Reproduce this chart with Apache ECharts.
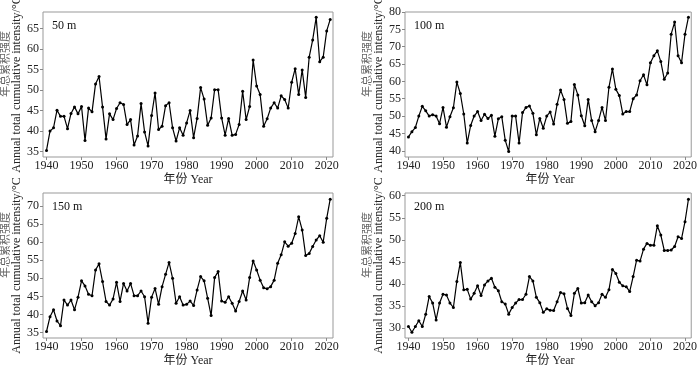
<!DOCTYPE html>
<html>
<head>
<meta charset="utf-8">
<script src="https://cdn.jsdelivr.net/npm/echarts@6/dist/echarts.min.js"></script>
<style>
html, body { margin: 0; padding: 0; background: #fff; }
#chart { width: 700px; height: 366px; }
</style>
</head>
<body>
<div id="chart"></div>
<script>
// years 1940 - 2021
const years = []
for (let y = 1940; y <= 2021; y++) years.push(y)

const yearTicks = [1940, 1950, 1960, 1970, 1980, 1990, 2000, 2010, 2020]

// annual total cumulative intensity, by depth
const depth50 = [
  35.3, 40.0, 40.8, 45.1, 43.6, 43.6, 40.6, 44.3, 45.9, 44.2,
  46.0, 37.7, 45.6, 44.7, 51.5, 53.3, 45.9, 38.1, 44.2, 42.8,
  45.5, 46.9, 46.5, 41.6, 42.8, 36.6, 38.8, 46.7, 39.8, 36.4,
  43.8, 49.3, 40.4, 41.2, 46.2, 46.9, 40.8, 37.6, 40.8, 39.0,
  42.0, 45.0, 38.4, 43.1, 50.6, 47.8, 41.4, 43.2, 50.1, 50.1,
  43.2, 39.0, 43.1, 39.0, 39.2, 41.6, 49.7, 42.8, 46.0, 57.3,
  51.0, 48.9, 41.2, 43.0, 45.6, 46.9, 45.6, 48.6, 47.7, 45.6,
  51.9, 55.2, 48.9, 54.9, 48.2, 58.0, 62.2, 67.7, 56.9, 58.0,
  64.4, 67.2
]
const depth100 = [
  44.0, 45.5, 46.7, 50.0, 52.8, 51.5, 50.0, 50.4, 50.0, 47.8,
  52.5, 46.8, 49.8, 52.4, 59.8, 56.5, 50.6, 42.2, 47.3, 50.0,
  51.3, 48.7, 50.5, 49.3, 50.2, 44.2, 49.2, 49.8, 43.0, 39.8,
  50.0, 50.0, 42.2, 51.0, 52.5, 52.9, 50.8, 44.6, 49.3, 46.5,
  50.0, 51.2, 47.7, 53.4, 57.5, 54.8, 47.9, 48.4, 59.1, 56.1,
  50.1, 47.2, 54.8, 48.7, 45.5, 48.7, 52.5, 48.7, 58.3, 63.6,
  57.7, 55.9, 50.6, 51.3, 51.3, 55.0, 56.1, 60.2, 61.9, 59.0,
  65.4, 67.4, 68.8, 65.7, 60.6, 62.4, 73.6, 77.1, 67.4, 65.4,
  73.6, 78.5
]
const depth150 = [
  35.3, 39.4, 41.3, 38.2, 36.9, 44.0, 42.6, 44.0, 41.3, 44.8,
  49.3, 47.9, 45.6, 45.2, 52.3, 54.0, 49.1, 43.6, 42.6, 44.3,
  48.9, 43.6, 48.6, 46.5, 48.6, 45.2, 45.2, 46.5, 44.9, 37.6,
  44.8, 47.2, 42.8, 47.7, 51.1, 54.4, 50.0, 43.1, 44.9, 42.6,
  42.8, 43.7, 42.5, 46.8, 50.5, 49.3, 44.5, 39.7, 50.2, 51.9,
  43.7, 43.4, 44.9, 43.1, 41.0, 43.6, 46.5, 44.0, 50.2, 54.8,
  52.3, 49.5, 47.4, 47.1, 47.7, 49.5, 54.2, 56.5, 60.1, 58.9,
  59.7, 62.4, 67.0, 63.4, 56.3, 56.9, 58.8, 60.6, 61.8, 60.0,
  66.6, 71.9
]
const depth200 = [
  30.4, 29.1, 30.4, 31.7, 30.4, 33.2, 37.2, 35.7, 31.9, 35.7,
  37.7, 37.5, 35.7, 34.7, 40.6, 44.9, 38.7, 38.8, 36.6, 37.9,
  39.6, 37.4, 39.8, 40.7, 41.3, 39.3, 38.5, 36.0, 35.5, 33.2,
  34.7, 35.7, 36.5, 36.5, 37.7, 41.7, 40.7, 37.0, 35.8, 33.6,
  34.4, 34.1, 34.0, 36.0, 38.1, 37.8, 34.5, 32.9, 37.9, 39.0,
  35.7, 35.8, 37.5, 36.0, 35.1, 35.8, 37.7, 37.0, 38.7, 43.3,
  42.4, 40.4, 39.6, 39.4, 38.3, 41.7, 45.4, 45.2, 47.9, 49.2,
  48.8, 48.8, 53.2, 51.1, 47.6, 47.6, 47.7, 48.5, 50.7, 50.3,
  54.1, 59.2
]

const ticks50 = [35, 40, 45, 50, 55, 60, 65]
const ticks100 = [40, 45, 50, 55, 60, 65, 70, 75, 80]
const ticks150 = [35, 40, 45, 50, 55, 60, 65, 70]
const ticks200 = [30, 35, 40, 45, 50, 55, 60]

const serif = "'Liberation Serif', 'Noto Sans CJK SC', serif"
const W = 290
const H = 145

const panels = [
  { label: '50 m', data: depth50, ticks: ticks50, min: 33.7, max: 69, left: 43, top: 12 },
  { label: '100 m', data: depth100, ticks: ticks100, min: 38.2, max: 80, left: 405, top: 12 },
  { label: '150 m', data: depth150, ticks: ticks150, min: 33.5, max: 73.6, left: 43, top: 193 },
  { label: '200 m', data: depth200, ticks: ticks200, min: 27.8, max: 60.6, left: 405, top: 193 }
]

const chart = echarts.init(document.getElementById('chart'))

const graphic = []
panels.forEach(function(p) {
  graphic.push({
    type: 'text', x: p.left + 9, y: p.top + 14,
    style: { text: p.label, font: '12px ' + serif, fill: '#111', align: 'left', verticalAlign: 'middle' }
  })
  graphic.push({
    type: 'text', x: p.left - 26, y: p.top + H / 2, rotation: Math.PI / 2,
    style: { text: 'Annual total cumulative intensity/°C', font: '12px ' + serif, fill: '#222', align: 'center', verticalAlign: 'middle' }
  })
  graphic.push({
    type: 'text', x: p.left - 37, y: p.top + 52, rotation: Math.PI / 2,
    style: { text: '年总累积强度', font: '11px ' + serif, fill: '#666', align: 'center', verticalAlign: 'middle' }
  })
  graphic.push({
    type: 'text', x: p.left + W / 2, y: p.top + H + 23,
    style: { text: '年份 Year', font: '12px ' + serif, fill: '#222', align: 'center', verticalAlign: 'middle' }
  })
})

const option = {
  animation: false,
  backgroundColor: '#fff',
  grid: panels.map(function(p) {
    return { left: p.left, top: p.top, width: W, height: H, show: true, borderColor: '#999', borderWidth: 1 }
  }),
  xAxis: panels.map(function(p, i) {
    return {
      type: 'value', gridIndex: i, min: 1939, max: 2021.8,
      axisLine: { show: false },
      splitLine: { show: false },
      axisTick: { show: true, inside: false, length: 3, customValues: yearTicks, lineStyle: { color: '#888' } },
      axisLabel: {
        customValues: yearTicks, margin: 3, fontFamily: serif, fontSize: 12, color: '#222',
        formatter: function(v) { return String(v) }
      }
    }
  }),
  yAxis: panels.map(function(p, i) {
    return {
      type: 'value', gridIndex: i, min: p.min, max: p.max,
      axisLine: { show: false },
      splitLine: { show: false },
      axisTick: { show: true, inside: false, length: 3, customValues: p.ticks, lineStyle: { color: '#888' } },
      axisLabel: { customValues: p.ticks, margin: 4, fontFamily: serif, fontSize: 12, color: '#222' }
    }
  }),
  series: panels.map(function(p, i) {
    return {
      type: 'line', xAxisIndex: i, yAxisIndex: i,
      data: years.map(function(y, k) { return [y, p.data[k]] }),
      symbol: 'circle', symbolSize: 3, showSymbol: true,
      lineStyle: { color: '#000', width: 1.2 },
      itemStyle: { color: '#000' }
    }
  }),
  graphic: graphic
}

chart.setOption(option)
</script>
</body>
</html>
